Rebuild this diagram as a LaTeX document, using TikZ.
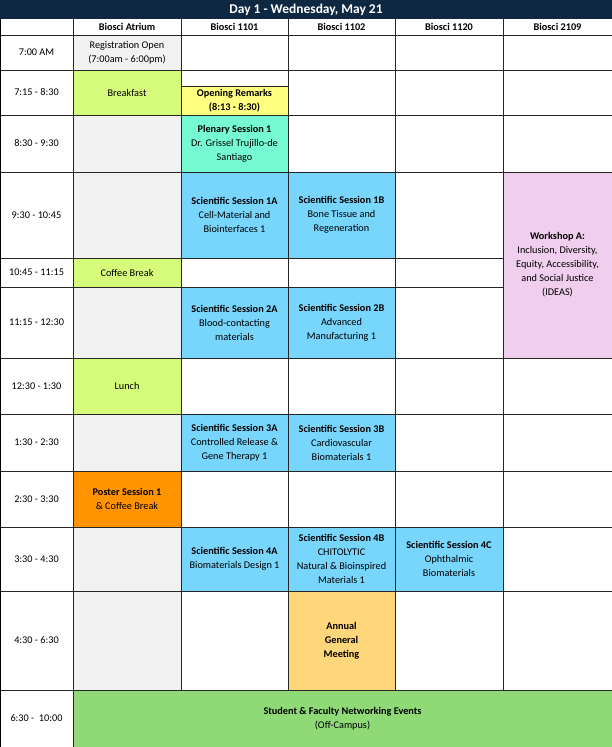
\documentclass[tikz,border=0pt]{standalone}
\usepackage{fontspec}
\setmainfont{Carlito}
\definecolor{navy}{HTML}{0E2841}
\definecolor{atgray}{HTML}{F2F2F2}
\definecolor{meal}{HTML}{D6FA7A}
\definecolor{openy}{HTML}{FFFF80}
\definecolor{plen}{HTML}{76FAD2}
\definecolor{sess}{HTML}{78D6FC}
\definecolor{wshop}{HTML}{F0CEEE}
\definecolor{poster}{HTML}{FF9400}
\definecolor{agm}{HTML}{FFD67A}
\definecolor{netw}{HTML}{8FD976}

\begin{document}
\begin{tikzpicture}[x=1bp, y=-1bp, cell/.style={draw=black!85, line width=0.7pt, align=center, inner sep=1pt, font=\fontsize{10.3}{14}\selectfont}, sz/.style 2 args={minimum width=#1, minimum height=#2}, hd/.style={font=\fontsize{10.3}{14}\selectfont\bfseries}, tm/.style={font=\fontsize{10.3}{14}\selectfont}, title/.style={fill=navy, text=white, font=\fontsize{13.5}{15}\selectfont\bfseries, minimum width=612bp, minimum height=19bp, inner sep=0pt}]
                \useasboundingbox (0,0) rectangle (612,747);
                \fill[white] (0,0) rectangle (612,747);
                % grid
                \foreach \y in {35,70,115,172,258,287,358,414,471,527,591,690}
                    \draw[black!85, line width=0.7pt] (0,\y) -- (612,\y);
                \foreach \x in {73,181,288,395,503}
                    \draw[black!85, line width=0.7pt] (\x,19) -- (\x,747);
                \draw[black, line width=1pt] (0,0) rectangle (612,747);
                % title and headers
                \node[title] (title) at (306,9.5) {Day 1 - Wednesday, May 21};
                \node[hd] (hA) at (127,27) {Biosci Atrium};
                \node[hd] (hB) at (234.5,27) {Biosci 1101};
                \node[hd] (hC) at (341.5,27) {Biosci 1102};
                \node[hd] (hD) at (449,27) {Biosci 1120};
                \node[hd] (hE) at (557.5,27) {Biosci 2109};
                % times
                \node[tm] (t1) at (36.5,52.5) {7:00 AM};
                \node[tm] (t2) at (36.5,92.5) {7:15 - 8:30};
                \node[tm] (t3) at (36.5,143.5) {8:30 - 9:30};
                \node[tm] (t4) at (36.5,215) {9:30 - 10:45};
                \node[tm] (t5) at (36.5,272.5) {10:45 - 11:15};
                \node[tm] (t6) at (36.5,322.5) {11:15 - 12:30};
                \node[tm] (t7) at (36.5,386) {12:30 - 1:30};
                \node[tm] (t8) at (36.5,442.5) {1:30 - 2:30};
                \node[tm] (t9) at (36.5,499) {2:30 - 3:30};
                \node[tm] (t10) at (36.5,559) {3:30 - 4:30};
                \node[tm] (t11) at (36.5,640.5) {4:30 - 6:30};
                \node[tm] (t12) at (36.5,718.5) {6:30 -\ \ 10:00};
                % atrium
                \node[cell, fill=atgray, sz={108bp}{35bp}] (reg) at (127,52.5) {Registration Open\\(7:00am - 6:00pm)};
                \node[cell, fill=meal, sz={108bp}{45bp}] (bfast) at (127,92.5) {Breakfast};
                \node[cell, fill=atgray, sz={108bp}{57bp}] (a3) at (127,143.5) {};
                \node[cell, fill=atgray, sz={108bp}{86bp}] (a4) at (127,215) {};
                \node[cell, fill=meal, sz={108bp}{29bp}] (coffee) at (127,272.5) {Coffee Break};
                \node[cell, fill=atgray, sz={108bp}{71bp}] (a6) at (127,322.5) {};
                \node[cell, fill=meal, sz={108bp}{56bp}] (lunch) at (127,386) {Lunch};
                \node[cell, fill=atgray, sz={108bp}{57bp}] (a8) at (127,442.5) {};
                \node[cell, fill=poster, sz={108bp}{56bp}] (post) at (127,499) {\textbf{Poster Session 1}\\\& Coffee Break};
                \node[cell, fill=atgray, sz={108bp}{64bp}] (a10) at (127,559) {};
                \node[cell, fill=atgray, sz={108bp}{99bp}] (a11) at (127,640.5) {};
                % biosci 1101
                \node[cell, fill=openy, sz={107bp}{29bp}, font=\fontsize{10.3}{14}\selectfont\bfseries] (open) at (234.5,100.5) {Opening Remarks\\(8:13 - 8:30)};
                \node[cell, fill=plen, sz={107bp}{57bp}] (plen) at (234.5,143.5) {\textbf{Plenary Session 1}\\Dr. Grissel Trujillo-de\\Santiago};
                \node[cell, fill=sess, sz={107bp}{86bp}] (s1a) at (234.5,215) {\textbf{Scientific Session 1A}\\Cell-Material and\\Biointerfaces 1};
                \node[cell, fill=sess, sz={107bp}{71bp}] (s2a) at (234.5,322.5) {\textbf{Scientific Session 2A}\\Blood-contacting\\materials};
                \node[cell, fill=sess, sz={107bp}{57bp}] (s3a) at (234.5,442.5) {\textbf{Scientific Session 3A}\\Controlled Release \&\\Gene Therapy 1};
                \node[cell, fill=sess, sz={107bp}{64bp}] (s4a) at (234.5,559) {\textbf{Scientific Session 4A}\\Biomaterials Design 1};
                % biosci 1102
                \node[cell, fill=sess, sz={107bp}{86bp}] (s1b) at (341.5,215) {\textbf{Scientific Session 1B}\\Bone Tissue and\\Regeneration};
                \node[cell, fill=sess, sz={107bp}{71bp}] (s2b) at (341.5,322.5) {\textbf{Scientific Session 2B}\\Advanced\\Manufacturing 1};
                \node[cell, fill=sess, sz={107bp}{57bp}] (s3b) at (341.5,442.5) {\textbf{Scientific Session 3B}\\Cardiovascular\\Biomaterials 1};
                \node[cell, fill=sess, sz={107bp}{64bp}] (s4b) at (341.5,559) {\textbf{Scientific Session 4B}\\CHITOLYTIC\\Natural \& Bioinspired\\Materials 1};
                \node[cell, fill=agm, sz={107bp}{99bp}, font=\fontsize{10.3}{14}\selectfont\bfseries] (agm) at (341.5,640.5) {Annual\\General\\Meeting};
                % biosci 1120 and 2109
                \node[cell, fill=sess, sz={108bp}{64bp}] (s4c) at (449,559) {\textbf{Scientific Session 4C}\\Ophthalmic\\Biomaterials};
                \node[cell, fill=wshop, sz={109bp}{186bp}] (wsa) at (557.5,265) {\textbf{Workshop A:}\\Inclusion, Diversity,\\Equity, Accessibility,\\and Social Justice\\(IDEAS)};
                % evening
                \node[cell, fill=netw, sz={539bp}{57bp}] (net) at (342.5,718.5) {\textbf{Student \& Faculty Networking Events}\\(Off-Campus)};
            \end{tikzpicture}
\end{document}
